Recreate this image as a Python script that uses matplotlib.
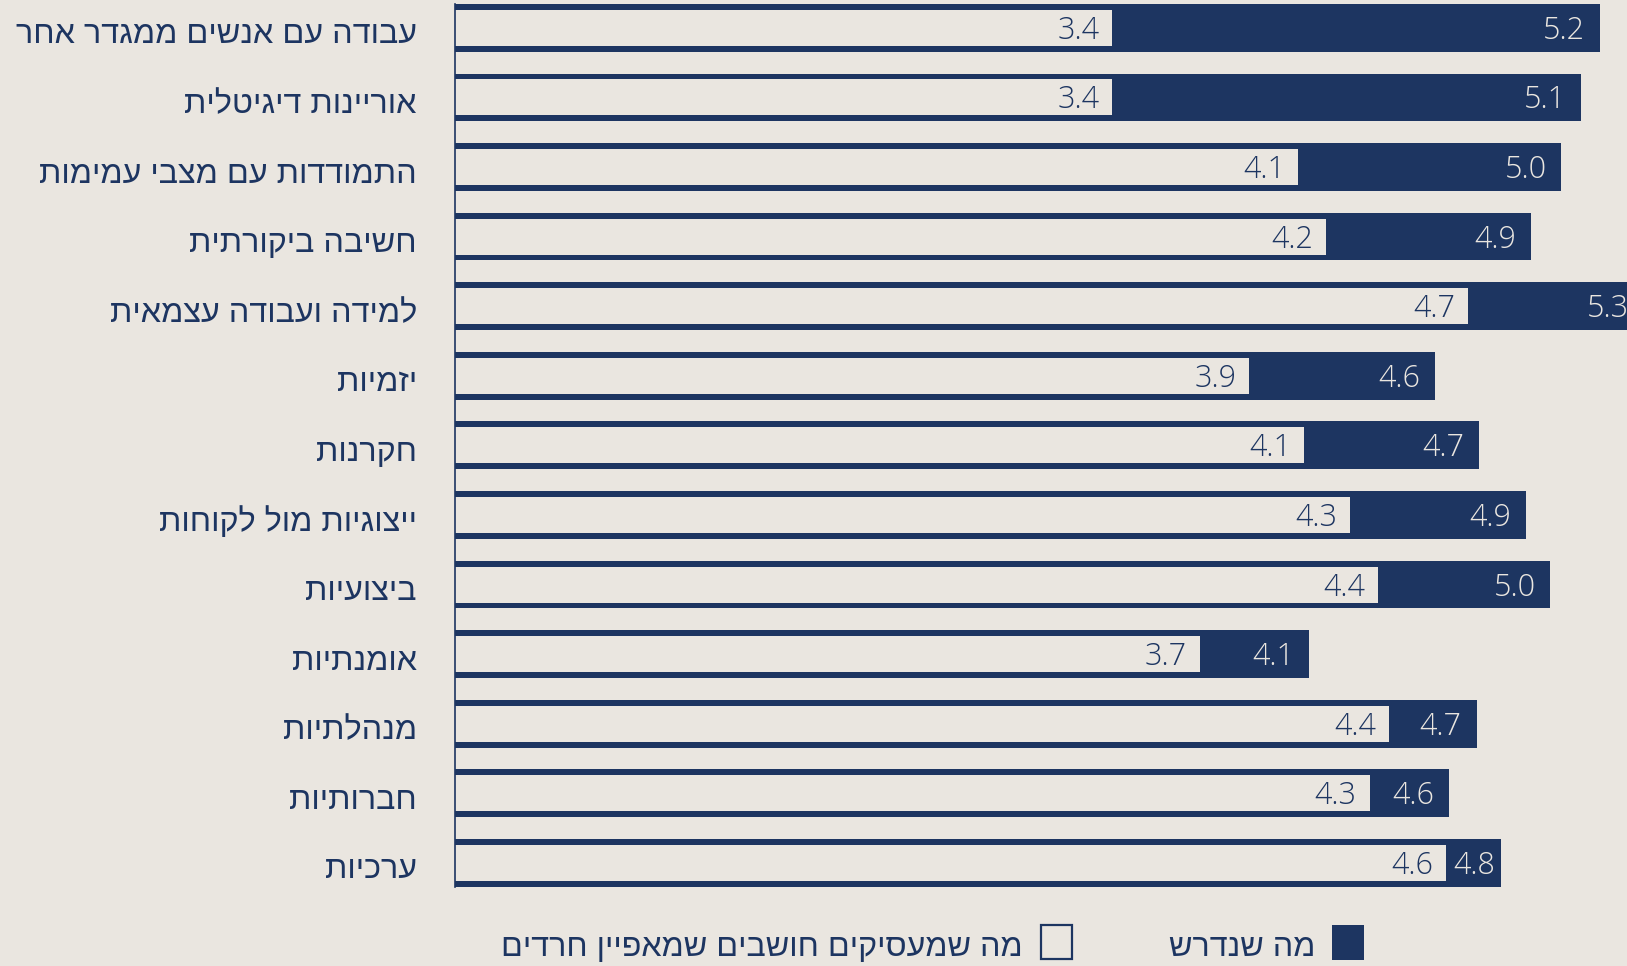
import matplotlib.pyplot as plt
import matplotlib.patches as patches
from matplotlib.transforms import ScaledTranslation
import numpy as np

# skills, top to bottom
skills = [
    "עבודה עם אנשים ממגדר אחר",
    "אוריינות דיגיטלית",
    "התמודדות עם מצבי עמימות",
    "חשיבה ביקורתית",
    "למידה ועבודה עצמאית",
    "יזמיות",
    "חקרנות",
    "ייצוגיות מול לקוחות",
    "ביצועיות",
    "אומנתיות",
    "מנהלתיות",
    "חברותיות",
    "ערכיות",
]
# what is required (dark bars)
required = [5.18, 5.11, 5.04, 4.93, 5.34, 4.58, 4.74, 4.91, 5.00, 4.12, 4.73, 4.63, 4.82]
# what employers think characterizes haredim (light bars)
perceived = [3.40, 3.40, 4.08, 4.18, 4.70, 3.90, 4.10, 4.27, 4.37, 3.72, 4.41, 4.34, 4.62]

legend_required = "מה שנדרש"
legend_perceived = "מה שמעסיקים חושבים שמאפיין חרדים"

NAVY = '#1d3561'
BG = '#eae6e0'
FONT = ['Open Sans', 'Liberation Sans', 'DejaVu Sans']
HEB = ['Liberation Sans', 'DejaVu Sans']


def rtl(s):
    # matplotlib has no bidi, so flip hebrew to visual order
    return s[::-1]


W, H = 1627, 966
fig = plt.figure(figsize=(W / 100, H / 100), dpi=100, facecolor=BG)
ax = fig.add_axes([454.5 / W, 1 - 890.7 / H, 1 - 454.5 / W, 890.7 / H])
ax.set_facecolor(BG)

y = np.arange(len(skills))
req = np.array(required)
per = np.array(perceived)

ax.barh(y, req - 1, left=1, height=0.686, color=NAVY, zorder=2)
ax.barh(y, per - 1, left=1, height=0.517, color=BG, zorder=3)

xmin, xmax = 1, 1 + (W - 454.5) / 274
px = (xmax - xmin) / (W - 454.5)  # data units per pixel
ax.set_xlim(xmin, xmax)
ax.set_ylim(len(skills) - 1 + 0.4, -0.4)

# value labels
dy = 3 / 69.6
for i in range(len(skills)):
    ax.text(per[i] - 13 * px, i + dy, f"{per[i]:.1f}", ha='right', va='center',
            fontsize=22, fontweight='light', color=NAVY, family=FONT, zorder=4, clip_on=False)
    gap = (req[i] - per[i]) / px
    if gap < 72:
        ax.text((req[i] + per[i]) / 2, i + dy, f"{req[i]:.1f}", ha='center', va='center',
                fontsize=22, fontweight='light', color=BG, family=FONT, zorder=4, clip_on=False)
    else:
        ax.text(req[i] - 15 * px, i + dy, f"{req[i]:.1f}", ha='right', va='center',
                fontsize=22, fontweight='light', color=BG, family=FONT, zorder=4, clip_on=False)

ax.set_yticks(y)
ax.set_yticklabels([rtl(s) for s in skills], family=HEB, fontsize=23.3, color=NAVY)
ax.tick_params(axis='y', length=0, pad=27)
for lab in ax.get_yticklabels():
    lab.set_transform(lab.get_transform() + ScaledTranslation(0, -4 / 100, fig.dpi_scale_trans))
ax.set_xticks([])

for side in ['top', 'right', 'bottom']:
    ax.spines[side].set_visible(False)
ax.spines['left'].set_color(NAVY)
ax.spines['left'].set_linewidth(1.2)
ax.spines['left'].set_bounds(-0.343, len(skills) - 1 + 0.343)
ax.spines['left'].set_zorder(5)

# legend, laid out right to left
fig.patches.append(patches.Rectangle((1332 / W, 1 - 960 / H), 32 / W, 35 / H,
                                     transform=fig.transFigure, facecolor=NAVY, edgecolor='none'))
fig.text(1315 / W, 1 - 948 / H, rtl(legend_required), ha='right', va='center',
         fontsize=23.2, color=NAVY, family=HEB)
fig.patches.append(patches.Rectangle((1041 / W, 1 - 959 / H), 31 / W, 34 / H,
                                     transform=fig.transFigure, facecolor='none',
                                     edgecolor=NAVY, linewidth=1.6))
fig.text(1023 / W, 1 - 948 / H, rtl(legend_perceived), ha='right', va='center',
         fontsize=23.2, color=NAVY, family=HEB)

plt.savefig("out.png", dpi=100, facecolor=BG)
